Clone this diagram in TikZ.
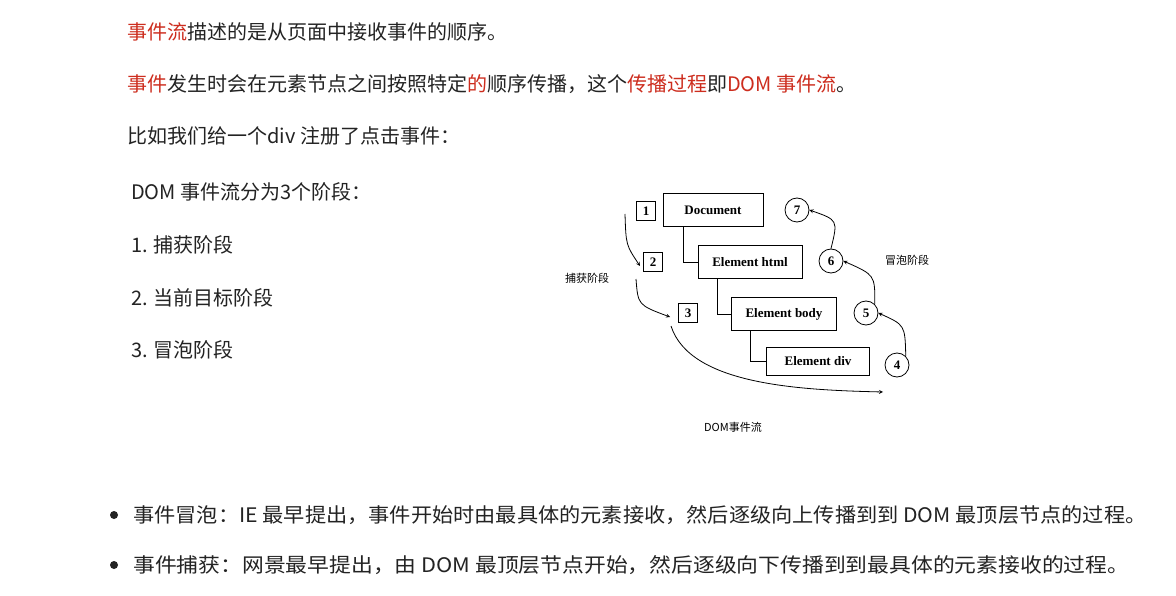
\documentclass[tikz,border=0pt]{standalone}
\usepackage{fontspec}
\setmainfont{Liberation Serif}
\newfontfamily\cjk{Noto Sans CJK SC}
\definecolor{rd}{RGB}{205,45,30}
\definecolor{tx}{RGB}{35,35,35}
\begin{document}
\begin{tikzpicture}[x=1pt,y=-1pt,
  txt/.style={anchor=west,inner sep=0,font=\cjk\fontsize{20}{22}\selectfont,text=tx},
  el/.style={draw,thick,minimum width=100,minimum height=33,inner sep=0,font=\fontsize{13}{14}\selectfont\bfseries},
  sq/.style={draw,thick,minimum size=19,inner sep=0,font=\fontsize{13}{14}\selectfont\bfseries},
  ci/.style={draw,thick,circle,minimum size=24,inner sep=0,font=\fontsize{13}{14}\selectfont\bfseries},
  lb/.style={inner sep=0,font=\cjk\fontsize{11}{12}\selectfont},
  ar/.style={->,>=stealth,thick}]
\useasboundingbox (0,0) rectangle (1176,596);
\fill[white] (0,0) rectangle (1176,596);
\node[txt] (t1) at (127,32) {\textcolor{rd}{事件流}描述的是从页面中接收事件的顺序。};
\node[txt] (t2) at (127,84) {\textcolor{rd}{事件}发生时会在元素节点之间按照特定\textcolor{rd}{的}顺序传播，这个\textcolor{rd}{传播过程}即\textcolor{rd}{DOM 事件流}。};
\node[txt] (t3) at (127,136) {比如我们给一个div 注册了点击事件：};
\node[txt] (t4) at (131,192) {DOM 事件流分为3个阶段：};
\node[txt] (t5) at (131,245) {1. 捕获阶段};
\node[txt] (t6) at (131,298) {2. 当前目标阶段};
\node[txt] (t7) at (131,350) {3. 冒泡阶段};
\fill[tx] (114,515) circle (4);
\fill[tx] (114,565) circle (4);
\node[txt] (b1) at (133,515) {\scalebox{1.06}[1]{事件冒泡：IE 最早提出，事件开始时由最具体的元素接收，然后逐级向上传播到到 DOM 最顶层节点的过程。}};
\node[txt] (b2) at (133,565) {\scalebox{1.09}[1]{事件捕获：网景最早提出，由 DOM 最顶层节点开始，然后逐级向下传播到到最具体的元素接收的过程。}};
% diagram
\node[el] (doc) at (713,210) {Document};
\node[el,minimum width=104] (html) at (750,262) {Element html};
\node[el,minimum width=105] (body) at (784,314) {Element body};
\node[el,minimum width=103,minimum height=28] (div) at (818,361) {Element div};
\draw[thick] (683,227) |- (html.west);
\draw[thick] (717,279) |- (body.west);
\draw[thick] (750,331) |- (div.west);
\node[sq] (s1) at (646,211) {1};
\node[sq] (s2) at (653,262) {2};
\node[sq] (s3) at (688,313) {3};
\node[ci] (c7) at (797,210) {7};
\node[ci] (c6) at (831,261) {6};
\node[ci] (c5) at (866,313) {5};
\node[ci] (c4) at (897,365) {4};
\coordinate (e3) at (883,392);
\draw[ar] (625,214) .. controls (626,245) .. (640,266);
\draw[ar] (636,279) .. controls (638,305) .. (670,317);
\draw[ar] (671,326) .. controls (690,385) and (800,390) .. (e3);
\draw[ar] (c4.north east) .. controls (905,325) .. (c5.east);
\draw[ar] (c5.north east) .. controls (875,275) .. (c6.east);
\draw[ar] (c6.north) .. controls (838,220) .. (c7.east);
\node[lb] (l1) at (587,278) {捕获阶段};
\node[lb] (l2) at (907,260) {冒泡阶段};
\node[lb] (l3) at (733,427) {DOM事件流};
\end{tikzpicture}
\end{document}
